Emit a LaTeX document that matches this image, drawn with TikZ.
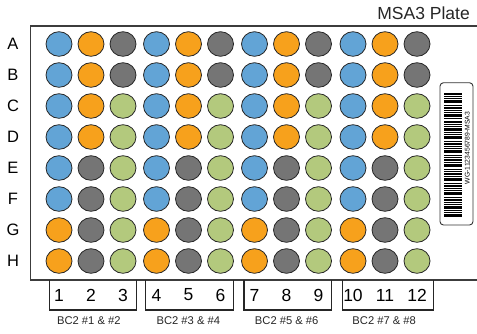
\documentclass[tikz,border=0pt]{standalone}
\usepackage{fontspec}
\setmainfont{Liberation Sans}
\usetikzlibrary{shapes.geometric}
\definecolor{wblue}{RGB}{98,164,214}
\definecolor{worange}{RGB}{247,161,28}
\definecolor{wgrey}{RGB}{117,117,117}
\definecolor{wgreen}{RGB}{179,201,125}
\definecolor{plateline}{RGB}{60,60,60}
\begin{document}
\begin{tikzpicture}[x=1pt,y=-1pt,
  well/.style={ellipse, draw=black!85, line width=0.8pt, minimum width=26pt, minimum height=24.6pt, inner sep=0pt},
  rowlab/.style={font=\fontsize{16.5}{16.5}\selectfont, inner sep=0pt},
  collab/.style={font=\fontsize{17.5}{17.5}\selectfont, inner sep=0pt},
  grplab/.style={font=\fontsize{11.2}{11.2}\selectfont, inner sep=0pt, text=black!85},
  titlelab/.style={font=\fontsize{17.5}{17.5}\selectfont, inner sep=0pt, text=black!85},
  plate/.style={draw=plateline, line width=1.2pt},
  bracket/.style={draw=black!85, line width=1.2pt},
  barbox/.style={draw=black!80, line width=0.9pt, rounded corners=3.5pt},
  bar/.style={fill=black}
]
\useasboundingbox (0,0) rectangle (477,333);
% plate outline (open on the right)
\coordinate (pTR) at (477,26);
\coordinate (pTL) at (30.7,26);
\coordinate (pBL) at (30.7,280);
\coordinate (pBR) at (477,280);
\draw[plate] (pTR) -- (pTL) -- (pBL) -- (pBR);
% title
\node[titlelab, anchor=east] (title) at (470,13) {MSA3 Plate};
% wells
\foreach \r/\y/\ca/\cb/\cc in {A/44/wblue/worange/wgrey, B/75/wblue/worange/wgrey,
  C/106/wblue/worange/wgreen, D/137/wblue/worange/wgreen,
  E/168/wblue/wgrey/wgreen, F/199/wblue/wgrey/wgreen,
  G/230/worange/wgrey/wgreen, H/261/worange/wgrey/wgreen} {
  \node[rowlab] (lab-\r) at (13,\y) {\r};
  \foreach \g/\xo in {0/59,1/156.5,2/254.5,3/353} {
    \pgfmathtruncatemacro{\ci}{3*\g+1}
    \pgfmathtruncatemacro{\cii}{3*\g+2}
    \pgfmathtruncatemacro{\ciii}{3*\g+3}
    \node[well, fill=\ca] (w-\r-\ci) at (\xo,\y) {};
    \node[well, fill=\cb] (w-\r-\cii) at (\xo+32,\y) {};
    \node[well, fill=\cc] (w-\r-\ciii) at (\xo+64,\y) {};
  }
}
% column numbers and brackets
\foreach \g/\xo/\xa/\xb in {0/59/49.3/136.7,1/156.5/145.7/233.3,2/254.5/244/331.7,3/353/342.7/433.3} {
  \pgfmathtruncatemacro{\ci}{3*\g+1}
  \pgfmathtruncatemacro{\cii}{3*\g+2}
  \pgfmathtruncatemacro{\ciii}{3*\g+3}
  \node[collab] (n-\ci) at (\xo,295) {\ci};
  \node[collab] (n-\cii) at (\xo+32,295) {\cii};
  \node[collab] (n-\ciii) at (\xo+64,295) {\ciii};
  \coordinate (b\g-a) at (\xa,280);
  \coordinate (b\g-b) at (\xa,310);
  \coordinate (b\g-c) at (\xb,310);
  \coordinate (b\g-d) at (\xb,280);
  \draw[bracket] (b\g-a) -- (b\g-b) -- (b\g-c) -- (b\g-d);
}
\node[grplab] (g1) at (88.8,320.5) {BC2 \#1 \& \#2};
\node[grplab] (g2) at (188.3,320.5) {BC2 \#3 \& \#4};
\node[grplab] (g3) at (286.7,320.5) {BC2 \#5 \& \#6};
\node[grplab] (g4) at (384.2,320.5) {BC2 \#7 \& \#8};
% barcode label
\draw[barbox] (440,82.7) rectangle (473,225);
\foreach \yy/\hh in {93/2, 96/1, 98/1, 100/3, 104.5/1, 107/2, 110/1, 112/1, 114/3, 118/1, 120.5/2, 124/1, 126/1, 128/2.5, 132/1, 134/1, 136/3, 140.5/1, 142.5/2, 146/1, 148/1, 150/3, 154.5/1, 156.5/1, 158.5/2, 162/1, 164/3, 168.5/1, 170.5/1, 172.5/2, 176/1, 178/3, 182.5/1, 184.5/2, 188/1, 190/1, 192/3, 196.5/1, 198.5/2, 202/1, 204/1, 206/2.5, 210/1, 212/1, 214/3} {
  \fill[bar] (443.5,\yy) rectangle (461.5,\yy+\hh);
}
\node[font=\fontsize{6.8}{6.8}\selectfont, inner sep=0pt, rotate=90] (bc) at (467.3,148) {WG-1123456789-MSA3};
\end{tikzpicture}
\end{document}
